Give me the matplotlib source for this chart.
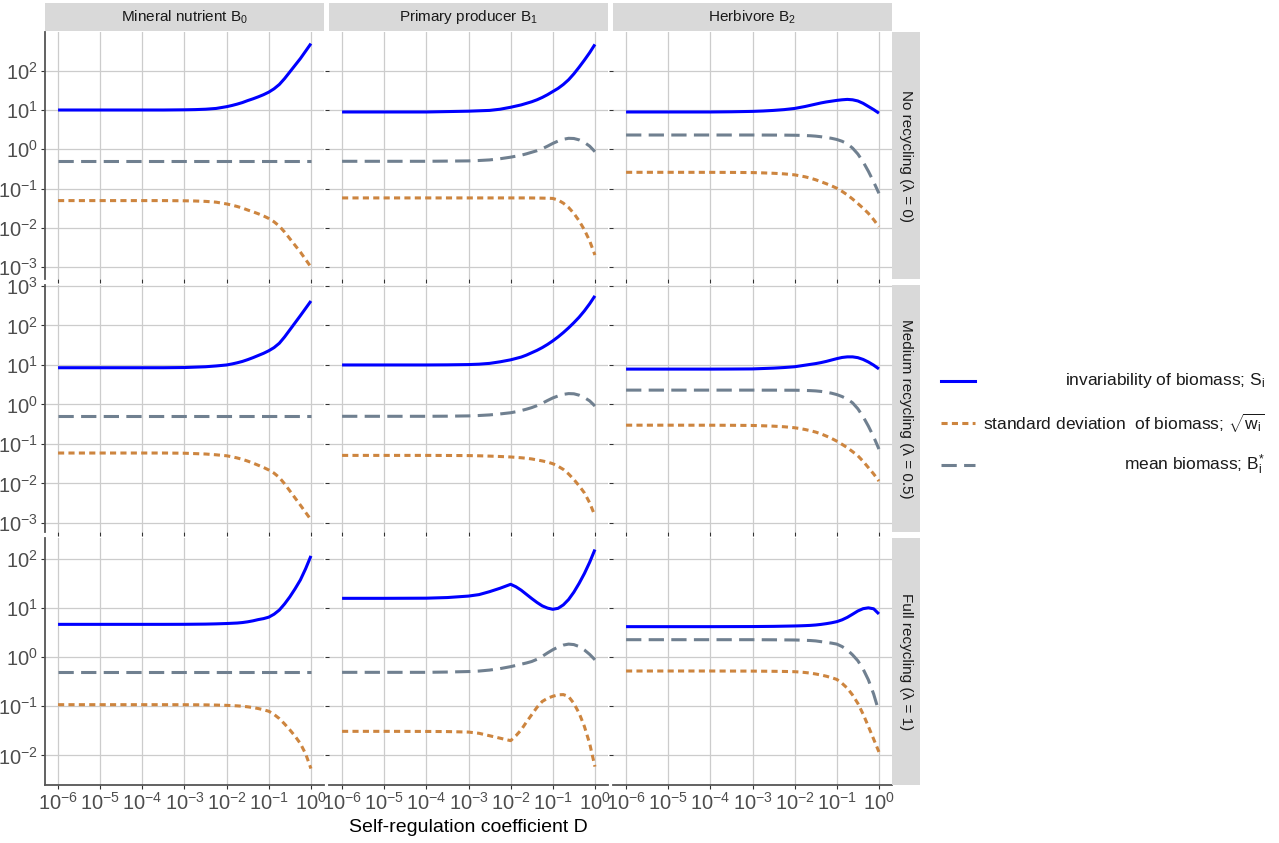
import numpy as np
import matplotlib.pyplot as plt
from matplotlib.lines import Line2D
from matplotlib.ticker import FixedLocator, NullLocator, LogFormatterSciNotation

plt.rcParams["font.family"] = ["Liberation Sans", "DejaVu Sans"]
plt.rcParams["mathtext.fontset"] = "custom"
plt.rcParams["mathtext.rm"] = "Liberation Sans"
plt.rcParams["mathtext.it"] = "Liberation Sans:italic"
plt.rcParams["mathtext.bf"] = "Liberation Sans:bold"

# ── Data (log10 of D and of the plotted quantities) ──────────────────────────
LOG_D = [-6, -5, -4, -3.5, -3, -2.75, -2.5, -2.25, -2, -1.875, -1.75, -1.625, -1.5,
         -1.375, -1.25, -1.125, -1, -0.875, -0.75, -0.625, -0.5, -0.375, -0.25, -0.125, 0]

SPECIES = ["Mineral nutrient B$_0$", "Primary producer B$_1$", "Herbivore B$_2$"]
RECYCLING = ["No recycling (λ = 0)", "Medium recycling (λ = 0.5)", "Full recycling (λ = 1)"]

# No recycling: [B0, B1, B2]
INV_NO = [
    [1.0, 1.0, 1.0, 1.0, 1.005, 1.01, 1.02, 1.04, 1.085, 1.115, 1.15, 1.19, 1.24,
     1.285, 1.335, 1.39, 1.455, 1.54, 1.65, 1.80, 1.97, 2.14, 2.31, 2.50, 2.69],
    [0.95, 0.95, 0.95, 0.96, 0.97, 0.98, 0.99, 1.02, 1.07, 1.10, 1.13, 1.17, 1.21,
     1.26, 1.32, 1.39, 1.47, 1.55, 1.65, 1.77, 1.92, 2.09, 2.27, 2.46, 2.67],
    [0.95, 0.95, 0.95, 0.955, 0.965, 0.975, 0.99, 1.01, 1.04, 1.065, 1.09, 1.12, 1.15,
     1.18, 1.205, 1.225, 1.245, 1.26, 1.27, 1.26, 1.23, 1.17, 1.09, 1.01, 0.92],
]
SD_NO = [
    [-1.305, -1.305, -1.305, -1.305, -1.31, -1.315, -1.325, -1.345, -1.39, -1.42, -1.455, -1.495, -1.545,
     -1.59, -1.64, -1.695, -1.76, -1.845, -1.955, -2.105, -2.275, -2.445, -2.615, -2.805, -2.995],
    [-1.237, -1.237, -1.237, -1.237, -1.237, -1.237, -1.237, -1.237, -1.237, -1.237, -1.237, -1.237, -1.238,
     -1.24, -1.242, -1.245, -1.25, -1.29, -1.37, -1.48, -1.63, -1.82, -2.05, -2.33, -2.69],
    [-0.585, -0.585, -0.586, -0.588, -0.592, -0.60, -0.61, -0.625, -0.65, -0.675, -0.70, -0.735, -0.775,
     -0.825, -0.875, -0.93, -0.99, -1.07, -1.16, -1.265, -1.38, -1.50, -1.63, -1.79, -1.97],
]
MEAN_NO = [
    [-0.305] * 25,
    [-0.305, -0.305, -0.305, -0.30, -0.295, -0.285, -0.27, -0.24, -0.20, -0.175, -0.15, -0.115, -0.075,
     -0.035, 0.015, 0.08, 0.15, 0.21, 0.255, 0.28, 0.275, 0.24, 0.175, 0.08, -0.06],
    [0.364, 0.364, 0.364, 0.364, 0.364, 0.363, 0.362, 0.361, 0.358, 0.355, 0.35, 0.345, 0.335,
     0.32, 0.30, 0.28, 0.25, 0.205, 0.14, 0.03, -0.12, -0.32, -0.56, -0.83, -1.12],
]

# Medium recycling
INV_MED = [
    [0.93, 0.93, 0.93, 0.93, 0.935, 0.945, 0.955, 0.975, 1.0, 1.025, 1.055, 1.09, 1.135,
     1.185, 1.24, 1.295, 1.36, 1.44, 1.55, 1.71, 1.89, 2.07, 2.25, 2.435, 2.62],
    [1.0, 1.0, 1.0, 1.003, 1.01, 1.02, 1.04, 1.08, 1.13, 1.165, 1.2, 1.25, 1.31,
     1.37, 1.44, 1.52, 1.61, 1.71, 1.82, 1.94, 2.07, 2.21, 2.37, 2.55, 2.75],
    [0.895, 0.895, 0.895, 0.897, 0.90, 0.91, 0.92, 0.935, 0.955, 0.975, 0.995, 1.015, 1.035,
     1.06, 1.09, 1.125, 1.16, 1.19, 1.205, 1.205, 1.185, 1.14, 1.075, 0.995, 0.90],
]
SD_MED = [
    [-1.23, -1.23, -1.23, -1.23, -1.235, -1.245, -1.255, -1.275, -1.30, -1.325, -1.355, -1.39, -1.435,
     -1.485, -1.54, -1.595, -1.66, -1.74, -1.85, -2.01, -2.19, -2.37, -2.55, -2.735, -2.92],
    [-1.29, -1.29, -1.29, -1.292, -1.295, -1.30, -1.308, -1.318, -1.33, -1.34, -1.35, -1.363, -1.38,
     -1.405, -1.43, -1.46, -1.50, -1.565, -1.645, -1.76, -1.90, -2.06, -2.24, -2.49, -2.82],
    [-0.525, -0.525, -0.526, -0.528, -0.532, -0.54, -0.55, -0.565, -0.59, -0.61, -0.635, -0.665, -0.70,
     -0.745, -0.80, -0.86, -0.93, -1.01, -1.095, -1.195, -1.30, -1.44, -1.60, -1.76, -1.94],
]
MEAN_MED = [
    [-0.30] * 25,
    [-0.30, -0.30, -0.30, -0.297, -0.29, -0.28, -0.265, -0.24, -0.21, -0.185, -0.155, -0.12, -0.08,
     -0.03, 0.03, 0.10, 0.165, 0.215, 0.255, 0.275, 0.27, 0.235, 0.175, 0.09, -0.04],
    [0.363, 0.363, 0.363, 0.363, 0.363, 0.362, 0.362, 0.361, 0.36, 0.358, 0.355, 0.35, 0.343,
     0.33, 0.31, 0.285, 0.25, 0.20, 0.135, 0.04, -0.11, -0.31, -0.55, -0.82, -1.13],
]

# Full recycling
INV_FULL = [
    [0.673, 0.673, 0.673, 0.673, 0.674, 0.676, 0.678, 0.683, 0.69, 0.695, 0.70, 0.71, 0.725,
     0.745, 0.77, 0.79, 0.82, 0.88, 0.965, 1.09, 1.235, 1.40, 1.58, 1.81, 2.07],
    [1.204, 1.204, 1.207, 1.22, 1.25, 1.28, 1.34, 1.41, 1.49, 1.44, 1.37, 1.285, 1.20,
     1.12, 1.05, 1.005, 0.98, 1.0, 1.07, 1.18, 1.33, 1.51, 1.71, 1.94, 2.2],
    [0.626, 0.626, 0.626, 0.627, 0.628, 0.63, 0.632, 0.636, 0.64, 0.643, 0.647, 0.652, 0.66,
     0.672, 0.687, 0.705, 0.728, 0.765, 0.816, 0.88, 0.946, 0.993, 1.01, 0.99, 0.885],
]
SD_FULL = [
    [-0.966, -0.966, -0.966, -0.966, -0.967, -0.968, -0.97, -0.974, -0.98, -0.985, -0.99, -0.998, -1.01,
     -1.025, -1.045, -1.07, -1.10, -1.165, -1.25, -1.36, -1.48, -1.61, -1.76, -1.97, -2.27],
    [-1.51, -1.51, -1.512, -1.515, -1.525, -1.55, -1.60, -1.65, -1.70, -1.60, -1.48, -1.32, -1.17,
     -1.02, -0.90, -0.835, -0.795, -0.765, -0.76, -0.80, -0.94, -1.14, -1.41, -1.76, -2.23],
    [-0.279, -0.279, -0.279, -0.28, -0.281, -0.283, -0.285, -0.288, -0.293, -0.30, -0.31, -0.322, -0.34,
     -0.36, -0.385, -0.415, -0.45, -0.53, -0.63, -0.77, -0.94, -1.16, -1.41, -1.67, -1.93],
]
MEAN_FULL = [
    [-0.306] * 25,
    [-0.306, -0.306, -0.306, -0.30, -0.29, -0.28, -0.26, -0.23, -0.19, -0.165, -0.14, -0.115, -0.085,
     -0.04, 0.02, 0.09, 0.155, 0.21, 0.25, 0.27, 0.26, 0.22, 0.15, 0.06, -0.05],
    [0.36, 0.36, 0.36, 0.36, 0.36, 0.359, 0.358, 0.356, 0.354, 0.351, 0.347, 0.343, 0.335,
     0.32, 0.305, 0.29, 0.27, 0.22, 0.15, 0.05, -0.07, -0.24, -0.46, -0.75, -1.11],
]

INV = [INV_NO, INV_MED, INV_FULL]
SD = [SD_NO, SD_MED, SD_FULL]
MEAN = [MEAN_NO, MEAN_MED, MEAN_FULL]

# ── Layout (pixels) ───────────────────────────────────────────────────────────
W, H = 1279, 843
COL_X = [(45, 324), (329, 608), (613, 892)]
ROW_Y = [(32, 279), (285, 532), (538, 785)]
YLIM = [(-3.30, 2.985), (-3.23, 3.025), (-2.605, 2.435)]
YTICKS = [range(-3, 3), range(-3, 4), range(-2, 3)]

BLUE, ORANGE, GREY = "#0000FF", "#CD853F", "#708090"
LW = 2.2
SD_DASH = (2.0, 1.4)
MEAN_DASH = (5.0, 2.4)


def box(x0, y0, x1, y1):
    return [x0 / W, 1 - y1 / H, (x1 - x0) / W, (y1 - y0) / H]


fig = plt.figure(figsize=(W / 100, H / 100), dpi=100)
d = 10.0 ** np.array(LOG_D)

for r in range(3):
    for c in range(3):
        (x0, x1), (y0, y1) = COL_X[c], ROW_Y[r]
        ax = fig.add_axes(box(x0, y0, x1, y1))
        ax.set_xscale("log")
        ax.set_yscale("log")
        ax.plot(d, 10.0 ** np.array(INV[r][c]), color=BLUE, lw=LW,
                solid_joinstyle="round", solid_capstyle="butt")
        ax.plot(d, 10.0 ** np.array(SD[r][c]), color=ORANGE, lw=LW, dashes=SD_DASH,
                dash_joinstyle="round")
        ax.plot(d, 10.0 ** np.array(MEAN[r][c]), color=GREY, lw=LW, dashes=MEAN_DASH,
                dash_joinstyle="round")

        ax.set_xlim(10 ** -6.31, 10 ** 0.31)
        ax.set_ylim(10.0 ** YLIM[r][0], 10.0 ** YLIM[r][1])
        ax.xaxis.set_major_locator(FixedLocator([10.0 ** k for k in range(-6, 1)]))
        ax.yaxis.set_major_locator(FixedLocator([10.0 ** k for k in YTICKS[r]]))
        ax.xaxis.set_minor_locator(NullLocator())
        ax.yaxis.set_minor_locator(NullLocator())
        ax.xaxis.set_major_formatter(LogFormatterSciNotation())
        ax.yaxis.set_major_formatter(LogFormatterSciNotation())

        ax.grid(True, color="#CCCCCC", lw=0.9)
        ax.set_axisbelow(True)
        for s in ax.spines.values():
            s.set_visible(False)
        if c == 0:
            ax.spines["left"].set_visible(True)
        if r == 2:
            ax.spines["bottom"].set_visible(True)
        for s in ("left", "bottom"):
            ax.spines[s].set_color("#555555")
            ax.spines[s].set_linewidth(1.3)
        ax.tick_params(length=3, width=0.8, color="#333333", labelsize=14.5,
                       labelcolor="#4D4D4D", pad=2)
        ax.tick_params(axis="x", labelbottom=(r == 2))
        ax.tick_params(axis="y", labelleft=(c == 0))

# ── Strips ────────────────────────────────────────────────────────────────────
for c, name in enumerate(SPECIES):
    sx = fig.add_axes(box(COL_X[c][0], 3, COL_X[c][1], 31))
    sx.set_facecolor("#D9D9D9")
    sx.set_xticks([])
    sx.set_yticks([])
    for s in sx.spines.values():
        s.set_visible(False)
    sx.text(0.5, 0.5, name, ha="center", va="center", fontsize=11, color="#1A1A1A",
            transform=sx.transAxes)

for r, name in enumerate(RECYCLING):
    sx = fig.add_axes(box(892, ROW_Y[r][0], 920, ROW_Y[r][1]))
    sx.set_facecolor("#D9D9D9")
    sx.set_xticks([])
    sx.set_yticks([])
    for s in sx.spines.values():
        s.set_visible(False)
    sx.text(0.5, 0.5, name, ha="center", va="center", fontsize=11, color="#1A1A1A",
            rotation=-90, transform=sx.transAxes)

fig.text(468.5 / W, 1 - 828 / H, "Self-regulation coefficient D", ha="center",
         va="center", fontsize=14, color="black")

# ── Legend ────────────────────────────────────────────────────────────────────
LEGEND = [
    ("invariability of biomass; S$_\\mathrm{i}$", BLUE, None, 381),
    ("standard deviation  of biomass; $\\sqrt{\\mathrm{w}_\\mathrm{i}}$", ORANGE, SD_DASH, 423),
    ("mean biomass; B$_\\mathrm{i}^{*}$", GREY, MEAN_DASH, 465),
]
for label, col, dash, y in LEGEND:
    ln = Line2D([941 / W, 975 / W], [1 - y / H, 1 - y / H], color=col, lw=LW,
                transform=fig.transFigure)
    if dash:
        ln.set_dashes(dash)
    fig.add_artist(ln)
    fig.text(1265 / W, 1 - y / H, label, ha="right", va="center", fontsize=12.5,
             color="#1A1A1A")

fig.savefig("out.png", dpi=100)
